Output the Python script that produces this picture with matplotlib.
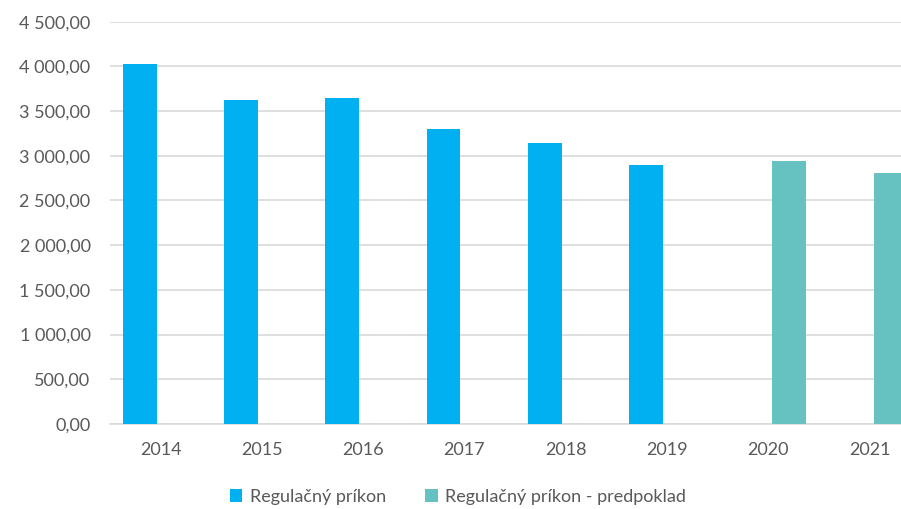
import matplotlib
matplotlib.use("Agg")
import matplotlib.pyplot as plt
from matplotlib.ticker import FuncFormatter
import numpy as np

years = ['2014', '2015', '2016', '2017', '2018', '2019', '2020', '2021']
prikon = [4024, 3620, 3642, 3295, 3139, 2900, np.nan, np.nan]
predpoklad = [np.nan, np.nan, np.nan, np.nan, np.nan, np.nan, 2941, 2803]

plt.rcParams['font.family'] = ['Lato', 'DejaVu Sans']
txt_color = '#595959'
grid_color = '#D9D9D9'

fig = plt.figure(figsize=(9.01, 5.09), dpi=100)
ax = fig.add_axes([0.1221, 0.167, 0.8993, 0.7904])

x = np.arange(len(years))
w = 0.333
off = 0.207
ax.bar(x - off, prikon, width=w, color='#00B0F0', label='Regulačný príkon', zorder=3)
ax.bar(x + off, predpoklad, width=w, color='#66C2C0', label='Regulačný príkon - predpoklad', zorder=3)

ax.set_xlim(-0.5, 7.5)
ax.set_ylim(0, 4500)
ax.set_yticks(np.arange(0, 4501, 500))
ax.set_xticks(x)
ax.set_xticklabels(years)


def fmt(v, pos):
    return '{:,.2f}'.format(v).replace(',', ' ').replace('.', ',')


ax.yaxis.set_major_formatter(FuncFormatter(fmt))
ax.grid(axis='y', color=grid_color, linewidth=1.2, zorder=0)
for s in ['top', 'right', 'left']:
    ax.spines[s].set_visible(False)
ax.spines['bottom'].set_color(grid_color)
ax.spines['bottom'].set_linewidth(1.2)
ax.tick_params(axis='both', length=0, labelsize=13, colors=txt_color)
ax.tick_params(axis='y', pad=14)
ax.tick_params(axis='x', pad=13)

fig.legend(loc='center', bbox_to_anchor=(458 / 901, 1 - 497 / 509), ncol=2,
           frameon=False, fontsize=13, labelcolor=txt_color,
           handlelength=0.7, handleheight=0.7, handletextpad=0.4, columnspacing=2.2)

fig.savefig('out.png', dpi=100)
